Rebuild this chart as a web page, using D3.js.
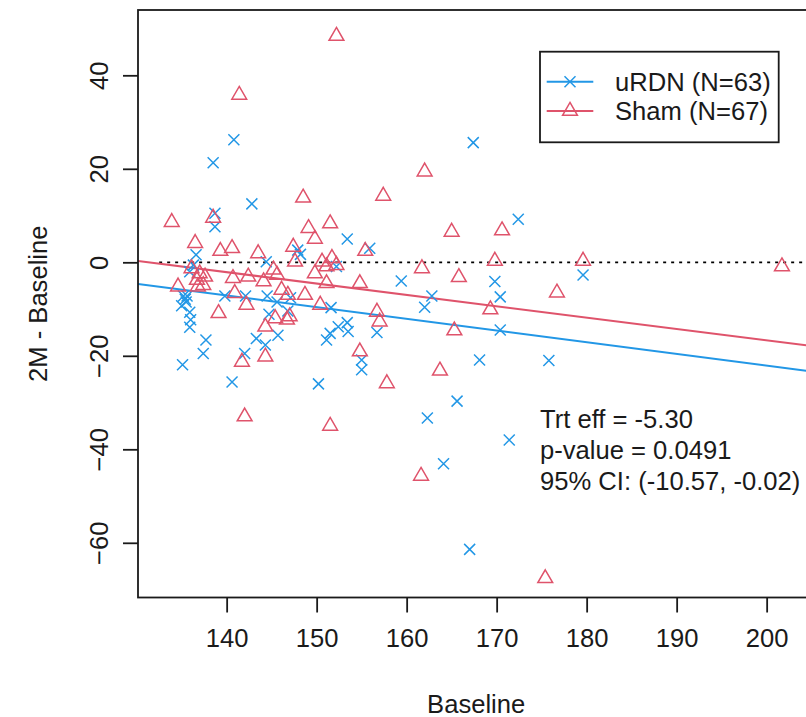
<!DOCTYPE html>
<html>
<head>
<meta charset="utf-8">
<script src="https://cdn.jsdelivr.net/npm/d3@7"></script>
<style>
  html, body { margin: 0; padding: 0; background: #fff; }
  svg { display: block; font-family: "Liberation Sans", Arial, sans-serif; }
</style>
</head>
<body>
<svg id="chart" width="806" height="717"></svg>
<script>
// Change from baseline at 2 months, by baseline value, per arm
const urdnBaseline = [140.8,138.5,142.8,167.4,172.4,138.7,138.7,153.4,155.9,147.9,136.6,144.4,152.2,135.9,179.6,159.4,169.8,170.4,162.8,162.0,170.4,168.1,175.8,165.6,162.3,171.4,164.1,167.0,135.2,135.5,135.0,135.9,136.0,135.9,137.7,137.4,135.1,140.6,150.2,139.8,142.1,144.5,144.7,145.6,147.1,146.8,143.3,144.3,145.7,142.0,151.6,151.1,151.5,152.4,153.4,153.5,156.7,155.0,155.0,135.4,148.2,136.3,135.6];
const urdnChange   = [26.2,21.3,12.5,25.6,9.2,10.5,7.6,5.0,3.0,2.6,1.6,0.1,-0.9,-2.0,-2.7,-4.0,-4.1,-7.4,-7.2,-9.6,-14.5,-20.9,-21.0,-29.7,-33.3,-38.0,-43.1,-61.4,-7.2,-8.5,-9.3,-10.7,-12.3,-13.9,-16.6,-19.5,-21.9,-25.6,-26.0,-7.2,-7.2,-7.2,-11.1,-8.5,-7.6,-10.4,-16.3,-17.7,-15.6,-19.5,-9.7,-16.6,-15.2,-13.8,-12.9,-14.8,-15.0,-20.9,-23.0,-7.9,1.7,-0.6,-7.2];

const shamBaseline = [152.2,141.4,162.0,148.5,157.4,133.9,138.5,136.5,139.3,140.6,143.5,147.4,149.1,151.5,149.8,155.4,165.0,170.6,169.8,179.6,201.7,161.7,165.8,176.7,169.3,165.3,163.7,161.6,175.4,142.0,151.5,136.1,137.0,137.6,136.7,136.8,137.4,134.6,140.7,142.4,144.1,145.2,145.6,146.1,146.8,140.9,142.2,139.1,144.3,145.4,146.7,147.6,150.6,151.7,151.1,152.2,149.8,151.1,154.8,148.7,150.4,147.0,156.7,157.0,154.8,141.7,144.3,157.8];
const shamChange   = [48.4,35.8,19.4,13.8,14.2,8.6,9.5,4.1,2.4,3.0,1.9,3.3,7.3,8.3,5.0,2.4,6.5,6.8,0.3,0.3,-0.9,-1.3,-3.2,-6.5,-10.1,-14.6,-23.2,-45.7,-67.6,-33.0,-35.0,-1.3,-2.4,-3.1,-3.8,-5.2,-4.9,-5.2,-3.4,-3.1,-4.1,-1.6,-2.7,-5.9,-7.0,-6.6,-9.1,-10.9,-13.8,-12.0,-12.3,0.1,0.1,0.9,-0.9,-0.6,-2.4,-4.5,-4.5,-7.0,-9.1,-11.6,-10.6,-12.7,-19.1,-21.3,-20.2,-25.9];

// Fitted lines per arm: change = intercept + slope * baseline
const fitIntercept = { uRDN: 27.90, Sham: 31.91 };
const fitSlope     = { uRDN: -0.250, Sham: -0.243 };

const armNames  = ["uRDN", "Sham"];
const armLabels = ["uRDN (N=63)", "Sham (N=67)"];
const armColors = ["#2297E6", "#DF536B"];

const xTicks = [140, 150, 160, 170, 180, 190, 200];
const yTicks = [-60, -40, -20, 0, 20, 40];
const xDomain = [130.15, 205.3];
const yDomain = [-71.7, 53.97];
const refLineStart = 132.5;

const statLines = ["Trt eff = -5.30", "p-value = 0.0491", "95% CI: (-10.57, -0.02)"];

const svg = d3.select("#chart");
const plot = { left: 138, top: 10, bottom: 597.5 };
plot.right = plot.left + (xDomain[1] - xDomain[0]) * 9;

const x = d3.scaleLinear().domain(xDomain).range([plot.left, plot.right]);
const y = d3.scaleLinear().domain(yDomain).range([plot.bottom, plot.top]);

const fontSize = 25.6;
const ink = "#1a1a1a";

svg.append("defs").append("clipPath").attr("id", "plotClip")
  .append("rect").attr("x", plot.left).attr("y", plot.top)
  .attr("width", plot.right - plot.left).attr("height", plot.bottom - plot.top);

// Axes (ticks only; the frame is drawn separately)
const xAxis = d3.axisBottom(x).tickValues(xTicks).tickSize(15).tickPadding(16).tickFormat(d3.format("d"));
const gx = svg.append("g").attr("transform", `translate(0,${plot.bottom})`).call(xAxis);
gx.select(".domain").remove();
gx.selectAll(".tick line").attr("stroke", ink).attr("stroke-width", 1.8);
gx.selectAll(".tick text").attr("fill", ink).attr("font-size", fontSize).attr("font-family", "Liberation Sans, Arial, sans-serif");

const yAxis = d3.axisLeft(y).tickValues(yTicks).tickSize(15).tickFormat(d3.format("d"));
const gy = svg.append("g").attr("transform", `translate(${plot.left},0)`).call(yAxis);
gy.select(".domain").remove();
gy.selectAll(".tick line").attr("stroke", ink).attr("stroke-width", 1.8);
gy.selectAll(".tick text")
  .attr("fill", ink).attr("font-size", fontSize).attr("font-family", "Liberation Sans, Arial, sans-serif")
  .attr("x", 0).attr("dy", 0).attr("text-anchor", "middle")
  .attr("transform", "translate(-30,0) rotate(-90)");

// Axis titles
svg.append("text").attr("x", (plot.left + plot.right) / 2).attr("y", 713)
  .attr("text-anchor", "middle").attr("font-size", fontSize).attr("fill", ink).text("Baseline");
svg.append("text").attr("transform", `translate(47,${(plot.top + plot.bottom) / 2}) rotate(-90)`)
  .attr("text-anchor", "middle").attr("font-size", fontSize).attr("fill", ink).text("2M - Baseline");

const inner = svg.append("g").attr("clip-path", "url(#plotClip)");

// Zero reference line
inner.append("line")
  .attr("x1", x(refLineStart)).attr("x2", x(xDomain[1]))
  .attr("y1", y(0)).attr("y2", y(0))
  .attr("stroke", "#000").attr("stroke-width", 1.8).attr("stroke-dasharray", "3,5");

// Fitted lines
armNames.forEach((arm, i) => {
  inner.append("line")
    .attr("x1", x(xDomain[0])).attr("x2", x(xDomain[1]))
    .attr("y1", y(fitIntercept[arm] + fitSlope[arm] * xDomain[0]))
    .attr("y2", y(fitIntercept[arm] + fitSlope[arm] * xDomain[1]))
    .attr("stroke", armColors[i]).attr("stroke-width", 2);
});

const R = 5.5;
const crossPath = `M${-R},${-R}L${R},${R}M${-R},${R}L${R},${-R}`;
const tri = { top: 1.5551 * R, half: 1.3468 * R, base: 0.7776 * R };
const triPath = `M0,${-tri.top}L${tri.half},${tri.base}L${-tri.half},${tri.base}Z`;

const urdnPts = urdnBaseline.map((b, i) => ({ b, c: urdnChange[i] }));
const shamPts = shamBaseline.map((b, i) => ({ b, c: shamChange[i] }));

inner.append("g").selectAll("path").data(urdnPts).join("path")
  .attr("d", crossPath)
  .attr("transform", d => `translate(${x(d.b)},${y(d.c)})`)
  .attr("fill", "none").attr("stroke", armColors[0]).attr("stroke-width", 1.5);

inner.append("g").selectAll("path").data(shamPts).join("path")
  .attr("d", triPath)
  .attr("transform", d => `translate(${x(d.b)},${y(d.c)})`)
  .attr("fill", "none").attr("stroke", armColors[1]).attr("stroke-width", 1.5);

// Frame
svg.append("rect").attr("x", plot.left).attr("y", plot.top)
  .attr("width", plot.right - plot.left).attr("height", plot.bottom - plot.top)
  .attr("fill", "none").attr("stroke", ink).attr("stroke-width", 1.8);

// Legend
const leg = svg.append("g");
leg.append("rect").attr("x", 540).attr("y", 51.7).attr("width", 238.7).attr("height", 90.6)
  .attr("fill", "#fff").attr("stroke", ink).attr("stroke-width", 1.8);
const legRows = [81.7, 111];
armNames.forEach((arm, i) => {
  const ry = legRows[i];
  leg.append("line").attr("x1", 546.7).attr("x2", 593.3).attr("y1", ry).attr("y2", ry)
    .attr("stroke", armColors[i]).attr("stroke-width", 2);
  leg.append("path").attr("d", i === 0 ? crossPath : triPath)
    .attr("transform", `translate(570,${ry})`)
    .attr("fill", "none").attr("stroke", armColors[i]).attr("stroke-width", 1.5);
  leg.append("text").attr("x", 615).attr("y", ry).attr("dy", "0.35em")
    .attr("font-size", fontSize).attr("fill", ink).text(armLabels[i]);
});

// Treatment-effect annotation
statLines.forEach((t, i) => {
  svg.append("text").attr("x", 540).attr("y", 428 + i * 31)
    .attr("font-size", fontSize).attr("fill", ink).text(t);
});
</script>
</body>
</html>
